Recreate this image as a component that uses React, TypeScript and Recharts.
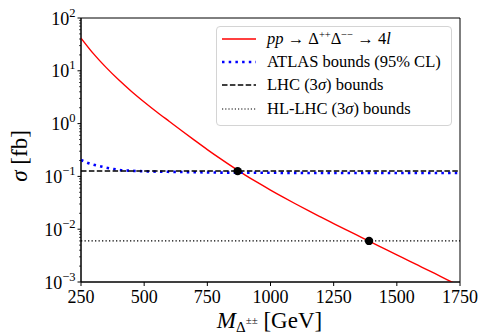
import React from 'react';
import { ComposedChart, XAxis, YAxis, Line, Scatter, ReferenceLine, ReferenceArea, Legend } from 'recharts';

// signal cross-section pp -> D++D-- -> 4l
const masses = [250, 300, 350, 400, 450, 500, 550, 600, 650, 700, 750, 800, 850, 900, 950, 1000, 1050, 1100, 1150, 1200, 1250, 1300, 1350, 1400, 1450, 1500, 1550, 1600, 1650, 1700, 1750];
const sigmaSignal = [41.7, 20.9, 11.48, 6.68, 4.07, 2.57, 1.66, 1.096, 0.724, 0.481, 0.322, 0.219, 0.151, 0.106, 0.0759, 0.0551, 0.0405, 0.030, 0.0224, 0.0169, 0.0128, 0.0097, 0.00738, 0.00562, 0.00429, 0.00327, 0.00249, 0.0019, 0.00145, 0.0011, 0.00084];

// ATLAS 95% CL bounds
const atlasMasses = [250, 275, 300, 325, 350, 375, 400, 450, 500, 600, 700, 800, 1000, 1250, 1500, 1750];
const atlasBounds = [0.204, 0.182, 0.166, 0.156, 0.146, 0.139, 0.133, 0.128, 0.125, 0.122, 0.12, 0.118, 0.117, 0.116, 0.116, 0.116];

const lhcBound = 0.126;
const hlLhcBound = 0.006;

// where the signal meets the bounds
const crossMasses = [870, 1390];
const crossSigma = [0.126, 0.006];

const xTicks = [250, 500, 750, 1000, 1250, 1500, 1750];
const yMajor = [1e-3, 1e-2, 1e-1, 1, 10, 100];
const yTicks: number[] = [];
yMajor.forEach((d, i) => {
  yTicks.push(d);
  if (i < yMajor.length - 1) for (let k = 2; k <= 9; k++) yTicks.push(d * k);
});

const signalData = masses.map((m, i) => ({ m, s: sigmaSignal[i] }));
const atlasData = atlasMasses.map((m, i) => ({ m, s: atlasBounds[i] }));
const crossData = crossMasses.map((m, i) => ({ m, s: crossSigma[i] }));

const FONT = "'Liberation Serif', 'Times New Roman', Times, 'DejaVu Serif', serif";

const YTick = (props: any) => {
  const { x, y, payload } = props;
  const lg = Math.log10(payload.value);
  const exp = Math.round(lg);
  if (Math.abs(lg - exp) > 1e-6) {
    return <line x1={x - 2} x2={x} y1={y} y2={y} stroke="#000" strokeWidth={0.7} />;
  }
  return (
    <g>
      <line x1={x - 3.5} x2={x} y1={y} y2={y} stroke="#000" strokeWidth={1} />
      <text x={x - 5.5} y={y + 6.5} textAnchor="end" fontSize={18} fill="#000" style={{ fontFamily: FONT }}>
        10<tspan dy={-8} fontSize={12.5}>{exp < 0 ? '\u2212' + -exp : String(exp)}</tspan>
      </text>
    </g>
  );
};

const XTick = (props: any) => {
  const { x, y, payload } = props;
  return (
    <g>
      <line x1={x} x2={x} y1={y} y2={y + 4} stroke="#000" strokeWidth={1} />
      <text x={x} y={y + 21} textAnchor="middle" fontSize={18} fill="#000" style={{ fontFamily: FONT }}>
        {payload.value}
      </text>
    </g>
  );
};

const XLabel = (props: any) => {
  const vb = props.viewBox || { x: 81, width: 379 };
  return (
    <text x={vb.x + vb.width / 2 - 1} y={328} textAnchor="middle" fontSize={23} fill="#000" style={{ fontFamily: FONT }}>
      <tspan fontStyle="italic">M</tspan>
      <tspan dy={3.5} fontSize={15}>Δ</tspan>
      <tspan dy={-8} fontSize={11}>±±</tspan>
      <tspan dy={4.5}> [GeV]</tspan>
    </text>
  );
};

const YLabel = () => (
  <text transform="translate(27,156) rotate(-90)" textAnchor="middle" fontSize={23} fill="#000" style={{ fontFamily: FONT }}>
    <tspan fontStyle="italic">σ</tspan> [fb]
  </text>
);

const sup: React.CSSProperties = { fontSize: 10.5, verticalAlign: 'super', lineHeight: 0 };

const legendItems = [
  { stroke: '#ff0000', width: 1.5, dash: undefined, label: <><i>pp</i> → Δ<span style={sup}>++</span>Δ<span style={sup}>−−</span> → 4<i>l</i></> },
  { stroke: '#0000ff', width: 2.6, dash: '2.5 4.2', label: <>ATLAS bounds (95% CL)</> },
  { stroke: '#000', width: 1.5, dash: '5.5 2.4', label: <>LHC (3<i>σ</i>) bounds</> },
  { stroke: '#000', width: 1.2, dash: '1.2 2', label: <>HL-LHC (3<i>σ</i>) bounds</> },
];

const LegendBox = () => (
  <div
    style={{
      width: 236,
      border: '1px solid #d4d4d4',
      borderRadius: 4,
      background: 'rgba(255,255,255,0.85)',
      padding: '0 0 5px 5px',
      fontFamily: FONT,
      fontSize: 16.5,
      color: '#000',
      boxSizing: 'border-box',
    }}
  >
    {legendItems.map((it, i) => (
      <div key={i} style={{ height: 23.3, display: 'flex', alignItems: 'center' }}>
        <svg width={34} height={10} style={{ flexShrink: 0 }}>
          <line x1={0} x2={34} y1={5} y2={5} stroke={it.stroke} strokeWidth={it.width} strokeDasharray={it.dash} />
        </svg>
        <span style={{ marginLeft: 11, whiteSpace: 'nowrap' }}>{it.label}</span>
      </div>
    ))}
  </div>
);

export default function App() {
  return (
    <div style={{ position: 'absolute', left: 0, top: 0, fontFamily: FONT }}>
      <ComposedChart width={480} height={334} margin={{ top: 18, right: 20, bottom: 0, left: 0 }} style={{ fontFamily: FONT }}>
        <XAxis
          type="number"
          dataKey="m"
          domain={[250, 1750]}
          ticks={xTicks}
          interval={0}
          allowDataOverflow
          height={52}
          tickSize={0}
          tickMargin={0}
          tickLine={false}
          axisLine={{ stroke: '#000' }}
          tick={<XTick />}
          label={<XLabel />}
        />
        <YAxis
          type="number"
          scale="log"
          domain={[1e-3, 1e2]}
          allowDataOverflow
          ticks={yTicks}
          interval={0}
          width={81}
          tickSize={0}
          tickMargin={0}
          tickLine={false}
          axisLine={{ stroke: '#000' }}
          tick={<YTick />}
          label={<YLabel />}
        />
        <ReferenceArea x1={250} x2={1750} y1={1e-3} y2={1e2} fill="none" stroke="#000" strokeWidth={1} fillOpacity={0} />
        <Line data={signalData} dataKey="s" type="monotone" stroke="#ff0000" strokeWidth={1.4} dot={false} isAnimationActive={false} />
        <Line data={atlasData} dataKey="s" type="monotone" stroke="#0000ff" strokeWidth={2.6} strokeDasharray="2.5 4.2" dot={false} isAnimationActive={false} />
        <ReferenceLine y={lhcBound} stroke="#000" strokeWidth={1.5} strokeDasharray="5.5 2.4" />
        <ReferenceLine y={hlLhcBound} stroke="#000" strokeWidth={1.3} strokeDasharray="1.3 2.2" />
        <Scatter
          data={crossData}
          dataKey="s"
          isAnimationActive={false}
          shape={(p: any) => <circle cx={p.cx} cy={p.cy} r={4.2} fill="#000" />}
        />
        <Legend
          layout="vertical"
          align="center"
          verticalAlign="middle"
          wrapperStyle={{ left: 216, top: 26, width: 236 }}
          content={<LegendBox />}
        />
      </ComposedChart>
    </div>
  );
}
